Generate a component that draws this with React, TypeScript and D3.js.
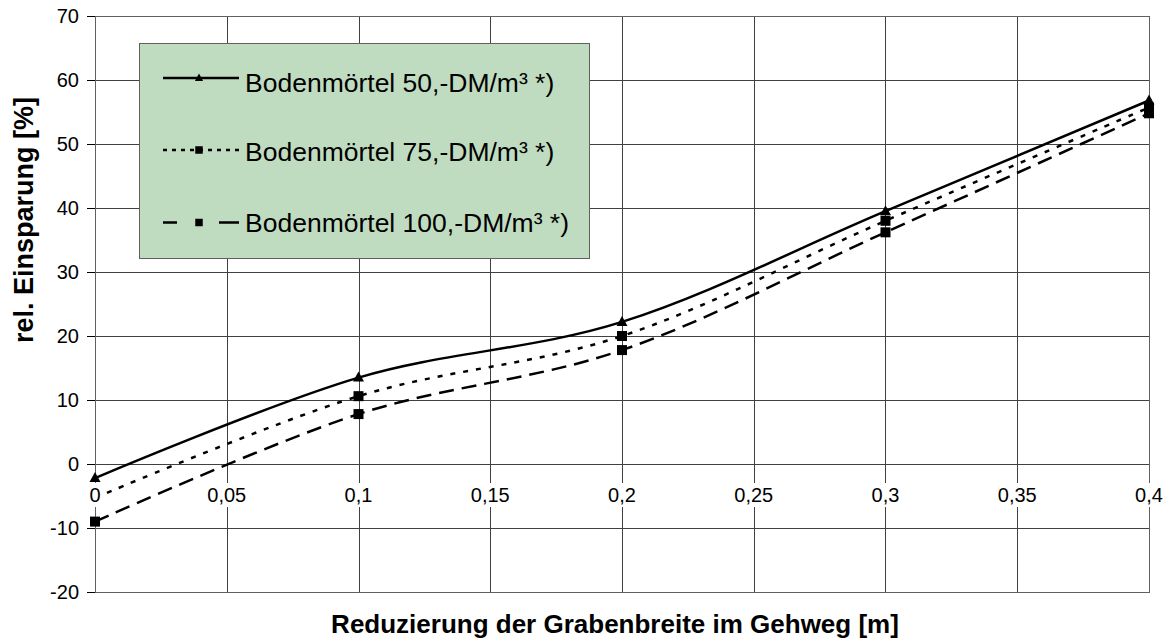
import React from "react";
import * as d3 from "d3";

const xValues = [0, 0.1, 0.2, 0.3, 0.4];
const series1 = [-2.2, 13.5, 22.2, 39.5, 56.8];
const series2 = [-5.3, 10.6, 20.0, 38.0, 55.7];
const series3 = [-9.0, 7.8, 17.8, 36.2, 54.8];
const seriesNames = [
  "Bodenmörtel 50,-DM/m³ *)",
  "Bodenmörtel 75,-DM/m³ *)",
  "Bodenmörtel 100,-DM/m³ *)",
];
const xTicks = [0, 0.05, 0.1, 0.15, 0.2, 0.25, 0.3, 0.35, 0.4];
const yTicks = [-20, -10, 0, 10, 20, 30, 40, 50, 60, 70];

const W = 1173;
const H = 641;
const L = 95, R = 1149, T = 16, B = 592;

export default function App() {
  const x = d3.scaleLinear().domain([0, 0.4]).range([L, R]);
  const y = d3.scaleLinear().domain([-20, 70]).range([B, T]);
  const line = d3
    .line<number>()
    .x((_, i) => x(xValues[i]))
    .y((d) => y(d))
    .curve(d3.curveCardinal.tension(0));

  const fmt = (v: number) => String(v).replace(".", ",");
  const font = "'Liberation Sans', Arial, sans-serif";
  const styles = [
    { dash: undefined as string | undefined, legDash: undefined as string | undefined, marker: "tri" },
    { dash: "5,8", legDash: "4,5", marker: "sq" },
    { dash: "15,8", legDash: "14,42,20", marker: "sq" },
  ];
  const data = [series1, series2, series3];

  const marker = (kind: string, cx: number, cy: number, key: string, s = 1) =>
    kind === "tri" ? (
      <path
        key={key}
        d={`M${cx},${cy - 6 * s}L${cx + 5.5 * s},${cy + 4 * s}L${cx - 5.5 * s},${cy + 4 * s}Z`}
        fill="#000"
      />
    ) : (
      <rect key={key} x={cx - 5 * s} y={cy - 5 * s} width={10 * s} height={10 * s} fill="#000" />
    );

  const legX = 140, legY = 43, legW = 450, legH = 215;
  const lineRows = [78, 150, 222.5];
  const textRows = [82.5, 152, 222.5];
  const gridColor = "#404040";
  const labelW = (s: string) =>
    s.split("").reduce((a, c) => a + (c === "," ? 0.278 : 0.556), 0) * 20 + 4;

  return (
    <svg width={W} height={H} style={{ position: "absolute", left: 0, top: 0 }} fontFamily={font}>
      <rect x={0} y={0} width={W} height={H} fill="#fff" />
      {/* grid */}
      {yTicks.map((t) => (
        <line key={"gy" + t} x1={L} x2={R} y1={Math.round(y(t)) + 0.5} y2={Math.round(y(t)) + 0.5} stroke={gridColor} strokeWidth={1} />
      ))}
      {xTicks.map((t) => (
        <line key={"gx" + t} y1={T} y2={B} x1={Math.round(x(t)) + 0.5} x2={Math.round(x(t)) + 0.5} stroke={gridColor} strokeWidth={1} />
      ))}
      <rect x={L + 0.5} y={T + 0.5} width={R - L} height={B - T} fill="none" stroke="#606060" strokeWidth={1} />
      {/* y ticks */}
      {yTicks.map((t) => (
        <g key={"yt" + t}>
          <line x1={L - 8} x2={L} y1={Math.round(y(t)) + 0.5} y2={Math.round(y(t)) + 0.5} stroke="#000" />
          <text x={79} y={y(t)} textAnchor="end" dominantBaseline="central" fontSize={20} fill="#000">
            {t}
          </text>
        </g>
      ))}
      {/* series */}
      {data.map((s, i) => (
        <g key={"s" + i}>
          <path d={line(s) || ""} fill="none" stroke="#000" strokeWidth={2.5} strokeDasharray={styles[i].dash} />
          {s.map((v, j) => marker(styles[i].marker, x(xValues[j]), y(v), `m${i}-${j}`))}
        </g>
      ))}
      {/* x tick labels at y=0, with white background */}
      {xTicks.map((t) => {
        const s = fmt(t);
        const w = labelW(s);
        return (
          <g key={"xt" + t}>
            <rect x={x(t) - w / 2} y={y(0) + 19} width={w} height={24} fill="#fff" />
            <text x={x(t)} y={y(0) + 31} textAnchor="middle" dominantBaseline="central" fontSize={20} fill="#000">
              {s}
            </text>
          </g>
        );
      })}
      {/* legend */}
      <rect x={legX - 0.5} y={legY + 0.5} width={legW} height={legH} fill="#C0DCC0" stroke="#606060" strokeWidth={1} />
      {seriesNames.map((n, i) => (
        <g key={"l" + i}>
          <line x1={163} x2={239} y1={lineRows[i]} y2={lineRows[i]} stroke="#000" strokeWidth={2.5} strokeDasharray={styles[i].legDash} />
          {marker(styles[i].marker, 199, lineRows[i], "lm" + i, 0.75)}
          <text x={245} y={textRows[i]} dominantBaseline="central" fontSize={26.5} fill="#000">
            {n}
          </text>
        </g>
      ))}
      {/* axis titles */}
      <text x={615} y={633} textAnchor="middle" fontSize={26} fontWeight="bold" fill="#000">
        Reduzierung der Grabenbreite im Gehweg [m]
      </text>
      <text
        transform={`translate(33,220) rotate(-90)`}
        textAnchor="middle"
        fontSize={27}
        fontWeight="bold"
        fill="#000"
      >
        rel. Einsparung [%]
      </text>
    </svg>
  );
}
